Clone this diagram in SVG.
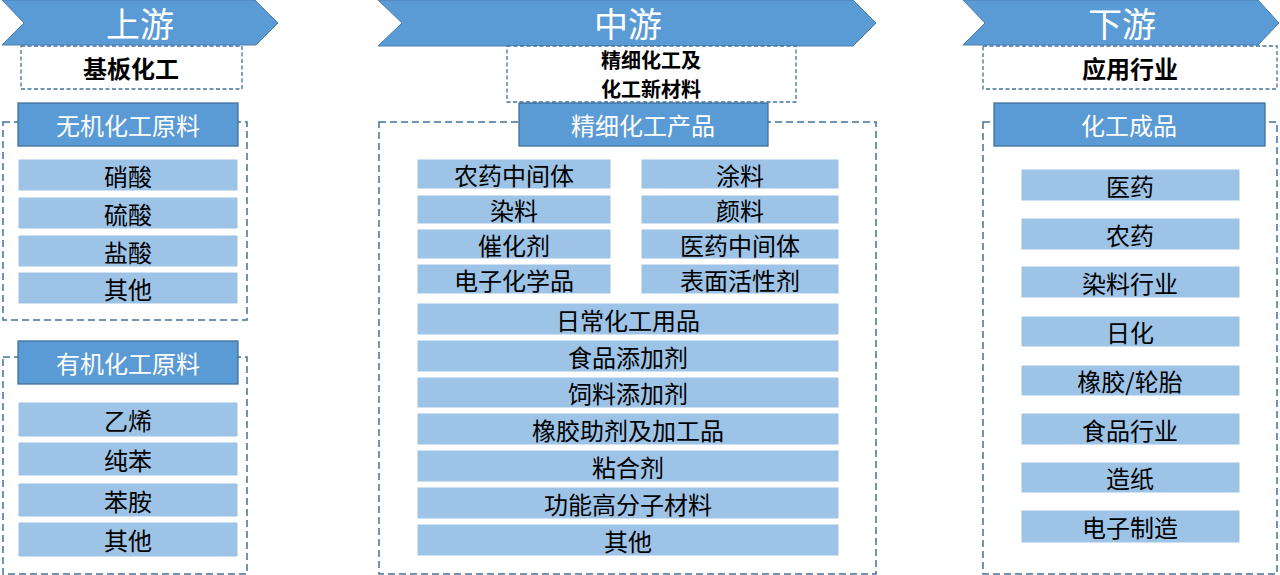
<svg xmlns="http://www.w3.org/2000/svg" width="1280" height="575" viewBox="0 0 1280 575">
<style>
.chev{fill:#5B9BD5;stroke:#4A7EB0;stroke-width:1}
.ct{font-family:"Noto Sans CJK SC","Noto Sans",sans-serif;font-size:34px;fill:#fff;text-anchor:middle;dominant-baseline:central}
.tbox{fill:#fff;stroke:#41719C;stroke-width:1.3;stroke-dasharray:4 2.5}
.tt{font-family:"Noto Sans CJK SC","Noto Sans",sans-serif;font-size:24px;font-weight:bold;fill:#000;text-anchor:middle;dominant-baseline:central}
.tt2{font-family:"Noto Sans CJK SC","Noto Sans",sans-serif;font-size:20px;font-weight:bold;fill:#000;text-anchor:middle;dominant-baseline:central}
.cont{fill:none;stroke:#41719C;stroke-width:1.5;stroke-dasharray:7 4}
.hd{fill:#5B9BD5;stroke:#41719C;stroke-width:1.3}
.ht{font-family:"Noto Sans CJK SC","Noto Sans",sans-serif;font-size:24px;fill:#fff;text-anchor:middle;dominant-baseline:central}
.it{fill:#9DC3E6;stroke:#fff;stroke-width:1}
.itx{font-family:"Noto Sans CJK SC","Noto Sans",sans-serif;font-size:24px;fill:#000;text-anchor:middle;dominant-baseline:central}
</style>

<!-- Upstream -->
<g id="upstream">
<polygon class="chev" points="2,0 255,0 278,23 256,45 2,45 24,23"/>
<text class="ct" x="140" y="22">上游</text>
<rect class="tbox" x="21" y="46" width="221" height="43"/>
<text class="tt" x="131" y="67">基板化工</text>
</g>
<g id="inorganic">
<rect class="cont" x="3" y="122" width="244" height="198"/>
<rect class="hd" x="18" y="103" width="220" height="43"/>
<text class="ht" x="128" y="124">无机化工原料</text>
<rect class="it" x="18" y="159" width="220" height="32"/><text class="itx" x="128" y="175">硝酸</text>
<rect class="it" x="18" y="197" width="220" height="32"/><text class="itx" x="128" y="213">硫酸</text>
<rect class="it" x="18" y="235" width="220" height="32"/><text class="itx" x="128" y="251">盐酸</text>
<rect class="it" x="18" y="272" width="220" height="32"/><text class="itx" x="128" y="288">其他</text>
</g>
<g id="organic">
<rect class="cont" x="3" y="357" width="244" height="217"/>
<rect class="hd" x="18" y="341" width="220" height="43"/>
<text class="ht" x="128" y="362">有机化工原料</text>
<rect class="it" x="18" y="402" width="220" height="35"/><text class="itx" x="128" y="419">乙烯</text>
<rect class="it" x="18" y="442" width="220" height="34"/><text class="itx" x="128" y="459">纯苯</text>
<rect class="it" x="18" y="483" width="220" height="34"/><text class="itx" x="128" y="500">苯胺</text>
<rect class="it" x="18" y="522" width="220" height="35"/><text class="itx" x="128" y="539">其他</text>
</g>

<!-- Midstream -->
<g id="midstream">
<polygon class="chev" points="378,0 853,0 876,23 853,46 378,46 402,23"/>
<text class="ct" x="628" y="22">中游</text>
<rect class="tbox" x="507" y="46" width="289" height="56"/>
<text class="tt2" x="651" y="59.5">精细化工及</text>
<text class="tt2" x="651" y="88.5">化工新材料</text>
</g>
<g id="fine">
<rect class="cont" x="379" y="122" width="497" height="452"/>
<rect class="hd" x="519" y="103" width="249" height="43"/>
<text class="ht" x="643" y="124">精细化工产品</text>
<rect class="it" x="417" y="159" width="194" height="30"/><text class="itx" x="514" y="174">农药中间体</text>
<rect class="it" x="417" y="195" width="194" height="29"/><text class="itx" x="514" y="209">染料</text>
<rect class="it" x="417" y="229" width="194" height="30"/><text class="itx" x="514" y="244">催化剂</text>
<rect class="it" x="417" y="264" width="194" height="30"/><text class="itx" x="514" y="279">电子化学品</text>
<rect class="it" x="641" y="159" width="198" height="30"/><text class="itx" x="740" y="174">涂料</text>
<rect class="it" x="641" y="195" width="198" height="29"/><text class="itx" x="740" y="209">颜料</text>
<rect class="it" x="641" y="229" width="198" height="30"/><text class="itx" x="740" y="244">医药中间体</text>
<rect class="it" x="641" y="264" width="198" height="30"/><text class="itx" x="740" y="279">表面活性剂</text>
<rect class="it" x="417" y="303" width="422" height="32"/><text class="itx" x="628" y="319">日常化工用品</text>
<rect class="it" x="417" y="340" width="422" height="32"/><text class="itx" x="628" y="356">食品添加剂</text>
<rect class="it" x="417" y="377" width="422" height="31"/><text class="itx" x="628" y="392">饲料添加剂</text>
<rect class="it" x="417" y="413" width="422" height="32"/><text class="itx" x="628" y="429">橡胶助剂及加工品</text>
<rect class="it" x="417" y="450" width="422" height="32"/><text class="itx" x="628" y="466">粘合剂</text>
<rect class="it" x="417" y="487" width="422" height="32"/><text class="itx" x="628" y="503">功能高分子材料</text>
<rect class="it" x="417" y="524" width="422" height="32"/><text class="itx" x="628" y="540">其他</text>
</g>

<!-- Downstream -->
<g id="downstream">
<polygon class="chev" points="963,0 1258,0 1279,23 1258,45 963,45 985,23"/>
<text class="ct" x="1122" y="22">下游</text>
<rect class="tbox" x="983" y="46" width="294" height="43"/>
<text class="tt" x="1130" y="67">应用行业</text>
</g>
<g id="products">
<rect class="cont" x="983" y="122" width="294" height="452"/>
<rect class="hd" x="994" y="103" width="271" height="43"/>
<text class="ht" x="1129" y="124">化工成品</text>
<rect class="it" x="1021" y="169" width="219" height="32"/><text class="itx" x="1130" y="185">医药</text>
<rect class="it" x="1021" y="218" width="219" height="32"/><text class="itx" x="1130" y="234">农药</text>
<rect class="it" x="1021" y="266" width="219" height="32"/><text class="itx" x="1130" y="282">染料行业</text>
<rect class="it" x="1021" y="316" width="219" height="31"/><text class="itx" x="1130" y="331">日化</text>
<rect class="it" x="1021" y="365" width="219" height="31"/><text class="itx" x="1130" y="380">橡胶/轮胎</text>
<rect class="it" x="1021" y="413" width="219" height="32"/><text class="itx" x="1130" y="429">食品行业</text>
<rect class="it" x="1021" y="462" width="219" height="31"/><text class="itx" x="1130" y="477">造纸</text>
<rect class="it" x="1021" y="510" width="219" height="33"/><text class="itx" x="1130" y="526">电子制造</text>
</g>
</svg>
